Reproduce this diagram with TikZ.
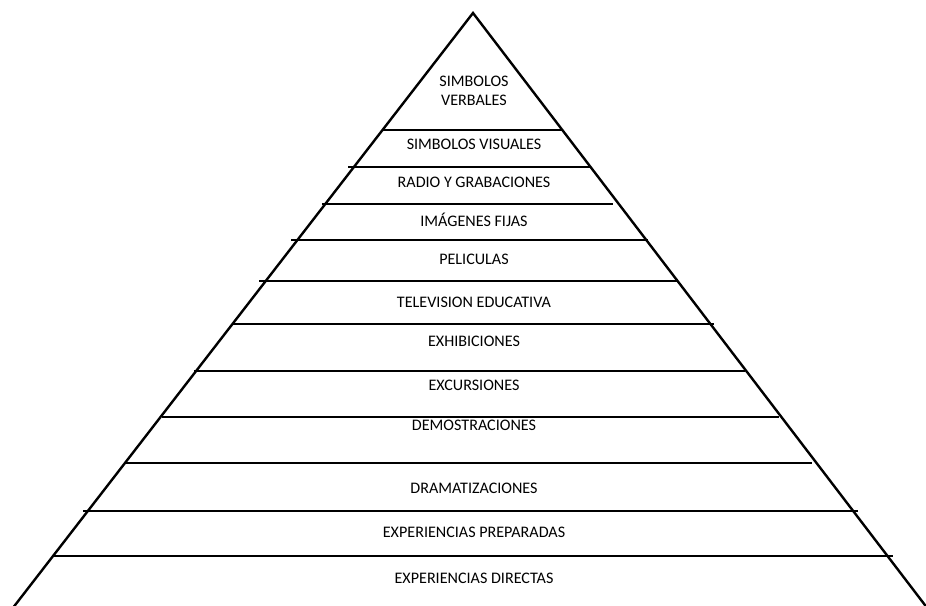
\documentclass[tikz,border=0pt]{standalone}
\usepackage{fontspec}
\setmainfont{Carlito}
\begin{document}
\begin{tikzpicture}[x=1pt,y=-1pt,
  edge/.style={line width=2.4pt,line cap=round},
  band/.style={line width=1.3pt},
  lbl/.style={font=\fontsize{16.1}{18.5}\selectfont,inner sep=0pt,align=center,anchor=center}]
\useasboundingbox (0,0) rectangle (926,605);
\clip (0,0) rectangle (926,605);
\coordinate (apex) at (473,13);
\coordinate (bl) at (10.5,611);
\coordinate (br) at (929.5,611);
\draw[edge] (bl) -- (apex) -- (br);
% band lines
\draw[band] (383,130) -- (562,130);
\draw[band] (348,167) -- (590,167);
\draw[band] (322,204) -- (613,204);
\draw[band] (291,240) -- (648,240);
\draw[band] (259,281) -- (678,281);
\draw[band] (233,324) -- (714,324);
\draw[band] (194,371) -- (745,371);
\draw[band] (162,417) -- (779,417);
\draw[band] (126,463) -- (812,463);
\draw[band] (83,511) -- (858,511);
\draw[band] (53,556) -- (893,556);
% labels
\node[lbl] (t1) at (474,91) {SIMBOLOS\\VERBALES};
\node[lbl] (t2) at (474,144) {SIMBOLOS VISUALES};
\node[lbl] (t3) at (474,182) {RADIO Y GRABACIONES};
\node[lbl] (t4) at (474,220) {IMÁGENES FIJAS};
\node[lbl] (t5) at (474,259) {PELICULAS};
\node[lbl] (t6) at (474,302) {TELEVISION EDUCATIVA};
\node[lbl] (t7) at (474,341) {EXHIBICIONES};
\node[lbl] (t8) at (474,385) {EXCURSIONES};
\node[lbl] (t9) at (474,425) {DEMOSTRACIONES};
\node[lbl] (t10) at (474,488) {DRAMATIZACIONES};
\node[lbl] (t11) at (474,532) {EXPERIENCIAS PREPARADAS};
\node[lbl] (t12) at (474,578) {EXPERIENCIAS DIRECTAS};
\end{tikzpicture}
\end{document}
